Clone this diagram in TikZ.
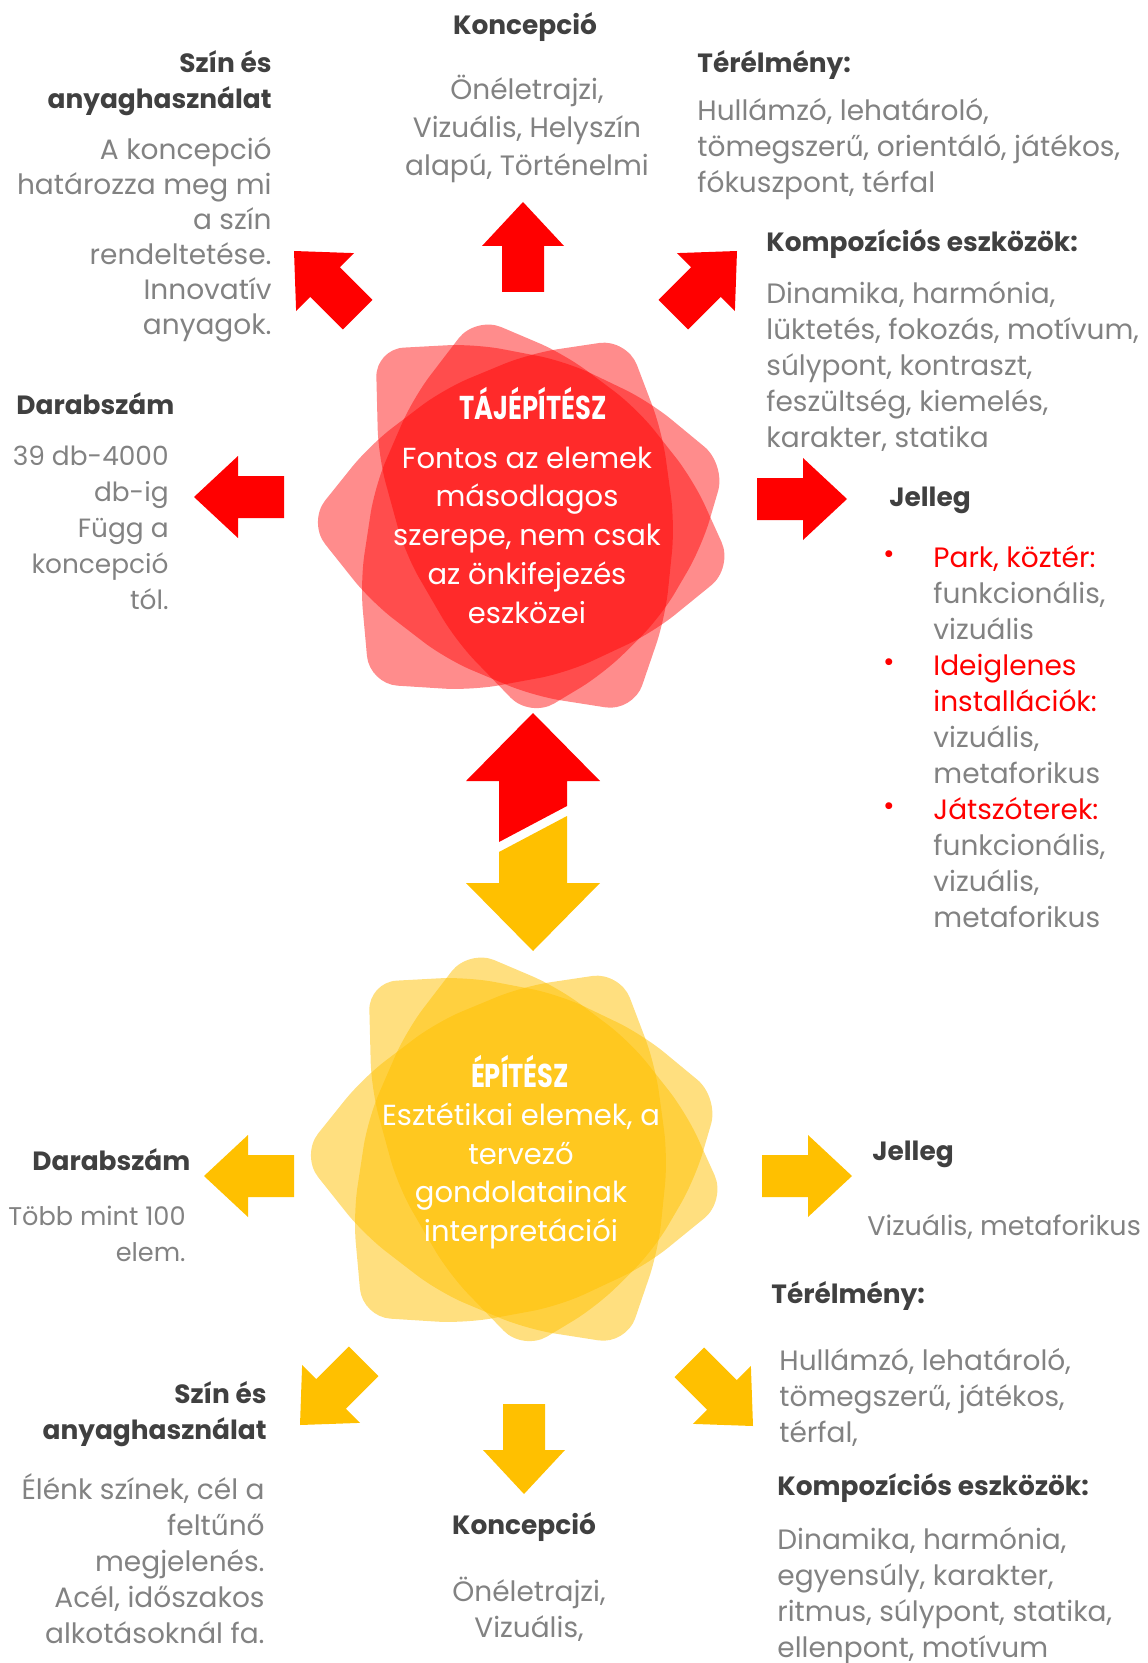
\documentclass[tikz,border=0pt]{standalone}
\usepackage{fontspec}
\setmainfont{Poppins}[Numbers=Proportional]
\newfontfamily\szukfont[FakeStretch=0.78]{Poppins}

\definecolor{piros}{RGB}{255,0,0}
\definecolor{sarga}{RGB}{255,192,0}
\definecolor{szurke}{RGB}{130,130,130}
\definecolor{sotet}{RGB}{64,64,64}

\tikzset{
  cim/.style={font=\bfseries\fontsize{13.2}{18}\selectfont, text=sotet, inner sep=0pt},
  szov/.style={font=\fontsize{14}{18}\selectfont, text=szurke, inner sep=0pt},
  belso/.style={font=\fontsize{14.5}{19.4}\selectfont, text=white, align=center, inner sep=0pt},
  fonev/.style={font=\szukfont\bfseries\fontsize{16.5}{18}\selectfont, text=white, inner sep=0pt},
  pont/.style={font=\fontsize{14}{18}\selectfont, text=piros, inner sep=0pt},
  pics/nyil/.style={code={
    \path[pic actions] (0,0) -- (-44,41) -- (-44,21) -- (-90,21) -- (-90,-21)
      -- (-44,-21) -- (-44,-41) -- cycle;
  }},
  % harom domboru oldalu, lekerekitett haromszog
  pics/csillag/.style={code={
    \path[pic actions, rounded corners=14pt]
      (-144,-162) -- (-48.1,-167.2) -- (40.6,-150.2) -- (121.9,-111.2)
      -- (196,-50) -- (172.5,30) -- (133,97.7) -- (77.5,153)
      -- (6,196) -- (-66.4,121.1) -- (-115.5,36.5) -- (-141.4,-57.9) -- cycle;
    \path[pic actions, rounded corners=14pt]
      (-47,-194) -- (39.3,-157.3) -- (109.7,-104.5) -- (164.3,-35.3)
      -- (203,50) -- (125.8,112.8) -- (41.2,152.4) -- (-50.8,169.3)
      -- (-150,163) -- (-159,63.8) -- (-144.9,-28.9) -- (-107.6,-114.8) -- cycle;
    \path[pic actions, rounded corners=14pt]
      (100,-172) -- (134.1,-82.1) -- (146.4,8.3) -- (137.1,98.9)
      -- (106,190) -- (9.1,174.8) -- (-75.9,139) -- (-148.9,82.8)
      -- (-210,6) -- (-149.9,-68.8) -- (-78.2,-123.3) -- (5.1,-157.8) -- cycle;
  }},
}

\begin{document}
\begin{tikzpicture}[x=0.5pt, y=-0.5pt]
  \useasboundingbox (0,0) rectangle (1147,1663);

  % --- TÁJÉPÍTÉSZ: csillag és nyilak ---
  \pic[fill=piros, fill opacity=0.45, scale=1.03] (taj) at (524,516) {csillag};
  \pic[fill=piros, rotate=90] (ny_fel) at (523,202) {nyil};
  \pic[fill=piros, rotate=135] (ny_bf) at (294,251) {nyil};
  \pic[fill=piros, rotate=45] (ny_jf) at (737,251) {nyil};
  \pic[fill=piros, rotate=180] (ny_bal) at (194,497) {nyil};
  \pic[fill=piros, rotate=0] (ny_jobb) at (847,499) {nyil};

  \node[fonev] (taj_nev) at (533,404) {TÁJÉPÍTÉSZ};
  \node[belso] (taj_szov) at (527,535) {Fontos az elemek\\másodlagos\\szerepe, nem csak\\az önkifejezés\\eszközei};

  \node[cim] (kon_cim) at (525,27) {Koncepció};
  \node[szov, align=center, font=\fontsize{14}{19}\selectfont] (kon_szov) at (527,129) {Önéletrajzi,\\Vizuális, Helyszín\\alapú, Történelmi};
  \node[cim, align=right, anchor=east] (szin_cim) at (272,83) {Szín és\\anyaghasználat};
  \node[szov, align=right, anchor=east, font=\fontsize{14}{17.5}\selectfont] (szin_szov) at (272,240) {A koncepció\\határozza meg mi\\a szín\\rendeltetése.\\Innovatív\\anyagok.};
  \node[cim, anchor=west] (ter_cim) at (697,65) {Térélmény:};
  \node[szov, align=left, anchor=west] (ter_szov) at (697,149) {Hullámzó, lehatároló,\\tömegszerű, orientáló, játékos,\\fókuszpont, térfal};
  \node[cim, anchor=west] (komp_cim) at (766,244) {Kompozíciós eszközök:};
  \node[szov, align=left, anchor=west] (komp_szov) at (766,366) {Dinamika, harmónia,\\lüktetés, fokozás, motívum,\\súlypont, kontraszt,\\feszültség, kiemelés,\\karakter, statika};
  \node[cim, anchor=west] (db_cim) at (16,404) {Darabszám};
  \node[szov, align=right, anchor=east, font=\fontsize{13.2}{18}\selectfont] (db_szov) at (169,528) {39 db-4000\\db-ig\\Függ a\\koncepció\\tól.};
  \node[cim, anchor=west] (jel_cim) at (889,500) {Jelleg};
  \node[szov, align=left, anchor=west] (jel_szov) at (933,737) {\textcolor{piros}{Park, köztér:}\\funkcionális,\\vizuális\\\textcolor{piros}{Ideiglenes}\\\textcolor{piros}{installációk:}\\vizuális,\\metaforikus\\\textcolor{piros}{Játszóterek:}\\funkcionális,\\vizuális,\\metaforikus};
  \foreach \y [count=\i] in {557,665,809}
    \node[pont] (pont\i) at (889,\y) {•};

  % --- kétirányú nyíl a két csillag között ---
  \fill[piros] (533,713) -- (600,781) -- (567,781) -- (567,806) -- (499,842) -- (499,781) -- (466,781) -- cycle;
  \fill[sarga] (499,852) -- (567,816) -- (567,883) -- (600,883) -- (533,951) -- (466,883) -- (499,883) -- cycle;

  % --- ÉPÍTÉSZ: csillag és nyilak ---
  \pic[fill=sarga, fill opacity=0.5, scale=1.03] (ep) at (517,1149) {csillag};
  \pic[fill=sarga, rotate=180] (ny2_bal) at (204,1176) {nyil};
  \pic[fill=sarga, rotate=0] (ny2_jobb) at (852,1176) {nyil};
  \pic[fill=sarga, rotate=270] (ny2_le) at (524,1494) {nyil};
  \pic[fill=sarga, rotate=225] (ny2_bl) at (300,1425) {nyil};
  \pic[fill=sarga, rotate=315] (ny2_jl) at (753,1426) {nyil};

  \node[fonev] (ep_nev) at (520,1072) {ÉPÍTÉSZ};
  \node[belso] (ep_szov) at (521,1176) {Esztétikai elemek, a\\tervező\\gondolatainak\\interpretációi};

  \node[cim, anchor=west] (db2_cim) at (32,1160) {Darabszám};
  \node[szov, align=right, anchor=east, font=\fontsize{12.8}{18}\selectfont] (db2_szov) at (186,1234) {Több mint 100\\elem.};
  \node[cim, anchor=west] (jel2_cim) at (872,1154) {Jelleg};
  \node[szov, anchor=west, font=\fontsize{13.5}{18}\selectfont] (jel2_szov) at (867,1227) {Vizuális, metaforikus};
  \node[cim, anchor=west] (ter2_cim) at (771,1296) {Térélmény:};
  \node[szov, align=left, anchor=west] (ter2_szov) at (779,1397) {Hullámzó, lehatároló,\\tömegszerű, játékos,\\térfal,};
  \node[cim, anchor=west] (komp2_cim) at (777,1488) {Kompozíciós eszközök:};
  \node[szov, align=left, anchor=west] (komp2_szov) at (777,1596) {Dinamika, harmónia,\\egyensúly, karakter,\\ritmus, súlypont, statika,\\ellenpont, motívum};
  \node[cim, align=right, anchor=east] (szin2_cim) at (267,1414) {Szín és\\anyaghasználat};
  \node[szov, align=right, anchor=east] (szin2_szov) at (265,1559) {Élénk színek, cél a\\feltűnő\\megjelenés.\\Acél, időszakos\\alkotásoknál fa.};
  \node[cim] (kon2_cim) at (524,1527) {Koncepció};
  \node[szov, align=center] (kon2_szov) at (529,1609) {Önéletrajzi,\\Vizuális,};
\end{tikzpicture}
\end{document}
